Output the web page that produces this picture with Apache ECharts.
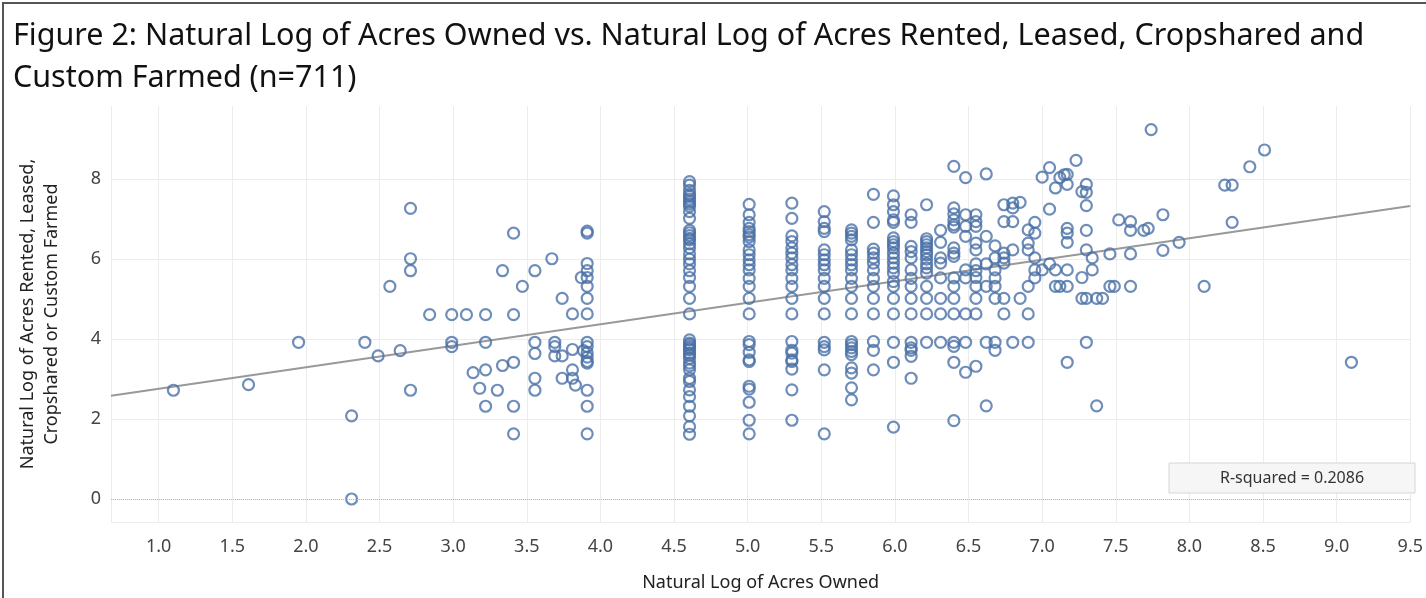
<!DOCTYPE html>
<html>
<head>
<meta charset="utf-8">
<title>Figure 2</title>
<script src="https://cdn.jsdelivr.net/npm/echarts@6/dist/echarts.min.js"></script>
<style>
html, body { margin: 0; padding: 0; background: #fff; }
#chart { width: 1426px; height: 598px; }
</style>
</head>
<body>
<div id="chart"></div>
<script>
// ln(acres owned) for each column of points
var ownedLevels = [1.10, 1.61, 1.95, 2.31, 2.40, 2.49, 2.57, 2.64, 2.71, 2.84,
    2.99, 3.09, 3.135, 3.18, 3.22, 3.30, 3.335, 3.41, 3.47, 3.555,
    3.67, 3.69, 3.74, 3.81, 3.83, 3.87, 3.885, 3.91,
    4.605, 5.01, 5.30, 5.52, 5.705, 5.854, 5.99, 6.11, 6.215, 6.31,
    6.40, 6.48, 6.55, 6.62, 6.68, 6.74, 6.80, 6.85, 6.905, 6.95,
    7.00, 7.05, 7.09, 7.12, 7.15, 7.17, 7.23, 7.27, 7.30, 7.34,
    7.37, 7.41, 7.46, 7.49, 7.52, 7.60, 7.69, 7.72, 7.74, 7.82,
    7.93, 8.10, 8.24, 8.29, 8.41, 8.51, 9.10];

// ln(acres rented, leased, cropshared or custom farmed), one list per column above
var rentedByLevel = [
    [2.72], [2.86], [3.92], [2.08, 0], [3.92], [3.58], [5.32], [3.71],
    [7.27, 6.01, 5.71, 2.72], [4.61],
    [4.61, 3.92, 3.81], [4.61], [3.16], [2.77], [4.61, 3.92, 3.23, 2.32], [2.72],
    [5.71, 3.34], [6.65, 4.61, 3.42, 2.32, 1.63], [5.32], [5.71, 3.92, 3.64, 3.02, 2.72],
    [6.01], [3.92, 3.81, 3.58], [5.02, 3.58, 3.02], [4.63, 3.74, 3.23, 3.02], [2.85],
    [5.54], [3.71],
    [6.70, 6.65, 5.89, 5.71, 5.54, 5.32, 5.02, 4.63, 3.92, 3.81, 3.66, 3.55, 3.44, 3.40, 2.72, 2.32, 1.63],
    // 4.605
    [7.94, 7.85, 7.72, 7.62, 7.57, 7.50, 7.44, 7.38, 7.32, 7.19, 7.02, 6.72, 6.66, 6.59, 6.52, 6.48,
     6.38, 6.28, 6.13, 6.00, 5.88, 5.71, 5.54, 5.32, 5.02, 4.63, 3.98, 3.90, 3.86, 3.81, 3.77, 3.73,
     3.65, 3.60, 3.52, 3.40, 3.33, 3.23, 3.02, 2.94, 2.73, 2.56, 2.32, 2.08, 1.81, 1.62],
    // 5.01
    [7.37, 7.11, 6.92, 6.77, 6.69, 6.61, 6.55, 6.44, 6.23, 6.11, 5.98, 5.86, 5.73, 5.52, 5.32, 5.02,
     4.63, 3.94, 3.86, 3.67, 3.48, 3.44, 2.82, 2.75, 2.42, 1.97, 1.63],
    // 5.30
    [7.40, 7.02, 6.58, 6.44, 6.28, 6.15, 6.03, 5.86, 5.73, 5.52, 5.32, 5.02, 4.63, 3.94, 3.72, 3.65,
     3.48, 3.44, 3.25, 2.73, 1.97],
    // 5.52
    [7.19, 6.94, 6.77, 6.69, 6.23, 6.11, 5.98, 5.86, 5.73, 5.52, 5.32, 5.02, 4.63, 3.92, 3.81, 3.73,
     3.23, 1.63],
    // 5.705
    [6.73, 6.65, 6.57, 6.48, 6.23, 6.11, 5.98, 5.86, 5.73, 5.52, 5.32, 5.02, 4.63, 3.94, 3.86, 3.78,
     3.69, 3.61, 3.28, 3.15, 2.78, 2.48],
    // 5.854
    [7.62, 6.92, 6.25, 6.15, 6.03, 5.90, 5.73, 5.52, 5.32, 5.02, 4.63, 3.94, 3.72, 3.23],
    // 5.99
    [7.58, 7.36, 7.19, 6.98, 6.92, 6.53, 6.44, 6.36, 6.28, 6.15, 6.03, 5.90, 5.78, 5.65, 5.44, 5.32,
     5.02, 4.63, 3.92, 3.42, 1.80],
    // 6.11
    [7.11, 6.92, 6.32, 6.19, 6.03, 5.73, 5.52, 5.32, 5.02, 4.63, 3.92, 3.78, 3.72, 3.57, 3.02],
    // 6.215
    [7.36, 6.51, 6.44, 6.36, 6.28, 6.19, 6.11, 6.00, 5.88, 5.78, 5.65, 5.32, 5.02, 4.63, 3.92],
    // 6.31
    [6.72, 6.42, 6.03, 5.90, 5.53, 5.02, 4.63, 3.92],
    // 6.40
    [8.32, 7.28, 7.13, 6.98, 6.86, 6.80, 6.28, 6.15, 6.07, 5.53, 5.32, 5.02, 4.63, 3.92, 3.82, 3.42, 1.96],
    [8.04, 7.11, 6.82, 6.57, 5.73, 5.53, 4.63, 3.92, 3.17],
    [7.11, 6.94, 6.82, 6.40, 6.23, 5.88, 5.71, 5.54, 5.32, 5.02, 4.63, 3.32],
    [8.13, 6.57, 5.88, 5.32, 3.92, 2.33],
    [6.33, 6.03, 5.73, 5.53, 5.32, 5.02, 3.92, 3.72],
    [7.36, 6.94, 6.15, 6.03, 5.90, 5.02, 4.63],
    [7.40, 7.28, 6.94, 6.23, 3.92],
    [7.42, 5.02],
    [6.73, 6.40, 6.23, 5.32, 4.63, 3.92],
    [6.92, 6.65, 6.03, 5.73, 5.53],
    // 7.00
    [8.05, 5.73], [8.29, 7.25, 5.88], [7.78, 5.73, 5.32], [8.04, 5.32], [8.11],
    [8.12, 7.87, 6.77, 6.65, 6.42, 5.73, 5.32, 3.42], [8.47], [7.69, 5.54, 5.02],
    [7.87, 7.67, 7.34, 6.72, 6.23, 5.02, 3.92], [6.03, 5.73],
    [5.02, 2.33], [5.02], [6.13, 5.32], [5.32], [6.98], [6.94, 6.72, 6.13, 5.32],
    [6.72], [6.77], [9.24], [7.11, 6.22],
    [6.42], [5.32], [7.85], [7.85, 6.92], [8.31], [8.73], [3.42]
];

// fitted trend line (Tableau linear fit)
var trendSlope = 0.538;
var trendIntercept = 2.22;
var rSquared = '0.2086';

var xMin = 0.676, xMax = 9.5;
var yMin = -0.575, yMax = 9.83;

var points = [];
for (var i = 0; i < ownedLevels.length; i++) {
    for (var j = 0; j < rentedByLevel[i].length; j++) {
        points.push([ownedLevels[i], rentedByLevel[i][j]]);
    }
}
var trendData = [[xMin, trendIntercept + trendSlope * xMin], [xMax, trendIntercept + trendSlope * xMax]];

var fontName = '"Noto Sans", "DejaVu Sans", sans-serif';
var chart = echarts.init(document.getElementById('chart'));

var option = {
    animation: false,
    title: {
        text: 'Figure 2: Natural Log of Acres Owned vs. Natural Log of Acres Rented, Leased, Cropshared and\nCustom Farmed (n=711)',
        left: 8,
        top: 10,
        textStyle: {
            fontFamily: fontName,
            fontSize: 30.5,
            fontWeight: 'normal',
            lineHeight: 42,
            color: '#111'
        }
    },
    grid: { left: 111, right: -2, top: 106, bottom: 76 },
    xAxis: {
        type: 'value',
        min: xMin,
        max: xMax,
        splitNumber: 17,
        name: 'Natural Log of Acres Owned',
        nameLocation: 'middle',
        nameGap: 52,
        nameTextStyle: { fontFamily: fontName, fontSize: 18, color: '#222' },
        axisLine: { show: false },
        axisTick: { show: false },
        axisLabel: {
            showMinLabel: false,
            margin: 16,
            fontFamily: fontName,
            fontSize: 18,
            color: '#444',
            formatter: function (v) { return v.toFixed(1); }
        },
        splitLine: { show: true, lineStyle: { color: '#ececec', width: 1 } }
    },
    yAxis: {
        type: 'value',
        min: yMin,
        max: yMax,
        splitNumber: 5,
        axisLine: { show: false },
        axisTick: { show: false },
        axisLabel: {
            showMinLabel: false,
            showMaxLabel: false,
            margin: 10,
            fontFamily: fontName,
            fontSize: 18,
            color: '#444'
        },
        splitLine: { show: true, showMaxLine: false, lineStyle: { color: '#ececec', width: 1 } }
    },
    graphic: [
        {
            type: 'rect',
            shape: { x: 3, y: 3, width: 1500, height: 700 },
            style: { fill: 'none', stroke: '#555', lineWidth: 2 },
            silent: true
        },
        {
            type: 'text',
            x: 40,
            y: 314,
            rotation: Math.PI / 2,
            style: {
                text: 'Natural Log of Acres Rented, Leased,\nCropshared or Custom Farmed',
                font: '18px ' + fontName,
                fill: '#222',
                align: 'center',
                verticalAlign: 'middle',
                lineHeight: 24
            }
        },
        {
            type: 'rect',
            shape: { x: 1169, y: 463, width: 246, height: 30 },
            style: { fill: '#f6f6f6', stroke: '#d6d6d6', lineWidth: 1 },
            z: 10
        },
        {
            type: 'text',
            x: 1292,
            y: 478,
            z: 11,
            style: {
                text: 'R-squared = ' + rSquared,
                font: '16px ' + fontName,
                fill: '#333',
                align: 'center',
                verticalAlign: 'middle'
            }
        }
    ],
    series: [
        {
            type: 'line',
            data: trendData,
            symbol: 'none',
            lineStyle: { color: '#999', width: 2 },
            z: 1,
            silent: true,
            markLine: {
                silent: true,
                symbol: 'none',
                label: { show: false },
                lineStyle: { color: '#bbb', type: 'dotted', width: 1 },
                data: [{ yAxis: 0 }]
            }
        },
        {
            type: 'scatter',
            data: points,
            symbol: 'circle',
            symbolSize: 11,
            itemStyle: {
                color: 'rgba(0,0,0,0)',
                borderColor: '#4a71a6',
                borderWidth: 2.2
            },
            z: 2
        }
    ]
};
chart.setOption(option);
</script>
</body>
</html>
